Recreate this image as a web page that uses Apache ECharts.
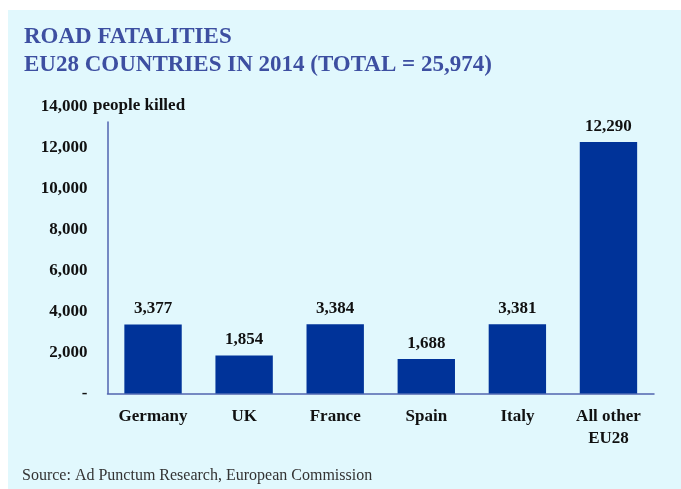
<!DOCTYPE html>
<html>
<head>
<meta charset="utf-8">
<script src="https://cdn.jsdelivr.net/npm/echarts@6/dist/echarts.min.js"></script>
<style>
  html, body { margin: 0; padding: 0; background: #ffffff; }
  #panel { position: absolute; left: 8px; top: 10px; right: 0; bottom: 0; background: #e1f8fd; }
  #chart { position: absolute; left: 0; top: 0; width: 681px; height: 489px; }
</style>
</head>
<body>
<div id="panel"></div>
<div id="chart"></div>
<script>
// Road fatalities, EU28, 2014
const categories = ['Germany', 'UK', 'France', 'Spain', 'Italy', 'All other\nEU28'];
const fatalities = [3377, 1854, 3384, 1688, 3381, 12290];
const yTicks = [0, 2000, 4000, 6000, 8000, 10000, 12000, 14000];
const titleLines = ['ROAD FATALITIES', 'EU28 COUNTRIES IN 2014 (TOTAL = 25,974)'];
const unitLabel = 'people killed';
const sourceNote = 'Source: Ad Punctum Research, European Commission';

const SERIF = '"Liberation Serif", "DejaVu Serif", serif';
const AXIS_BLUE = '#5164af';
const fmt = v => v === 0 ? '-' : v.toLocaleString('en-US');

const chart = echarts.init(document.getElementById('chart'), null, { renderer: 'canvas' });

chart.setOption({
  backgroundColor: 'transparent',
  animation: false,
  textStyle: { fontFamily: SERIF },
  title: [{
    text: titleLines.join('\n'),
    left: 24, top: 23, padding: 0,
    textStyle: { fontFamily: SERIF, fontSize: 23, fontWeight: 'bold', color: '#3d4fa1', lineHeight: 28 }
  }, {
    text: sourceNote,
    left: 22, top: 468, padding: 0,
    textStyle: { fontFamily: SERIF, fontSize: 16, fontWeight: 'normal', color: '#333333' }
  }],
  graphic: [{
    type: 'text',
    left: 93, top: 97,
    style: { text: unitLabel, font: 'bold 17px ' + SERIF, fill: '#111111' }
  }],
  grid: [
    // plotting grid, 0 .. 14,000
    { left: 107.5, right: 27, top: 107, bottom: 95.5 },
    // frame grid carrying the visible vertical axis line
    { left: 107.5, right: 27, top: 122, bottom: 95.5 }
  ],
  xAxis: [{
    type: 'category',
    gridIndex: 0,
    data: categories,
    axisLine: { show: true, lineStyle: { color: AXIS_BLUE, width: 1.5 } },
    axisTick: { show: false },
    axisLabel: {
      margin: 12, fontFamily: SERIF, fontSize: 17, fontWeight: 'bold',
      color: '#111111', lineHeight: 22, interval: 0
    }
  }, {
    type: 'category',
    gridIndex: 1,
    data: categories,
    show: false
  }],
  yAxis: [{
    type: 'value',
    gridIndex: 0,
    min: yTicks[0],
    max: yTicks[yTicks.length - 1],
    interval: yTicks[1] - yTicks[0],
    axisLine: { show: false },
    axisTick: { show: false },
    splitLine: { show: false },
    axisLabel: {
      margin: 20, fontFamily: SERIF, fontSize: 17, fontWeight: 'bold', color: '#111111',
      formatter: fmt
    }
  }, {
    type: 'value',
    gridIndex: 1,
    min: 0, max: 1,
    axisLine: { show: true, lineStyle: { color: AXIS_BLUE, width: 1.5 } },
    axisTick: { show: false },
    axisLabel: { show: false },
    splitLine: { show: false }
  }],
  series: [{
    type: 'bar',
    xAxisIndex: 0,
    yAxisIndex: 0,
    data: fatalities,
    barCategoryGap: '37%',
    itemStyle: { color: '#003399' },
    label: {
      show: true, position: 'top', distance: 7,
      fontFamily: SERIF, fontSize: 17, fontWeight: 'bold', color: '#111111',
      formatter: p => fmt(p.value)
    }
  }]
});
</script>
</body>
</html>
